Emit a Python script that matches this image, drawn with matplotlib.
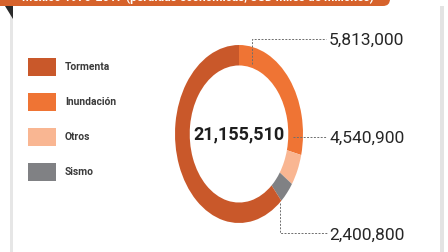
import matplotlib
matplotlib.use('Agg')
import matplotlib.pyplot as plt
import matplotlib.patches as mpatches

# ---------------------------------------------------------------------------
# Data
# ---------------------------------------------------------------------------
categorias = ['Tormenta', 'Inundación', 'Otros', 'Sismo']
colores    = ['#C9582A', '#EF7434', '#F9B692', '#808184']
# share of the ring (%)
porcentaje = [61.5, 28.8, 5.7, 4.0]
# clockwise order of the ring from 12 o'clock
orden_anillo = ['Inundación', 'Otros', 'Sismo', 'Tormenta']

total_txt   = '21,155,510'
etiquetas   = ['5,813,000', '4,540,900', '2,400,800']
titulo      = 'México 1970-2017 (pérdidas económicas, USD miles de millones)'

W, H = 448, 252
fig = plt.figure(figsize=(W / 100, H / 100), dpi=100)
fig.patch.set_facecolor('white')

# ---------------------------------------------------------------------------
# Donut (stretched vertically like the original)
# ---------------------------------------------------------------------------
ax_pie = fig.add_axes([175 / W, 1 - 223 / H, 128 / W, 178 / H])
idx = [categorias.index(c) for c in orden_anillo]
ax_pie.pie([porcentaje[i] for i in idx],
           colors=[colores[i] for i in idx],
           startangle=90, counterclock=False, radius=1.0,
           wedgeprops=dict(width=0.23, edgecolor='none'))
ax_pie.set_aspect('auto')
ax_pie.set_xlim(-1, 1)
ax_pie.set_ylim(-1, 1)
ax_pie.axis('off')

# ---------------------------------------------------------------------------
# Overlay in pixel coordinates
# ---------------------------------------------------------------------------
ax = fig.add_axes([0, 0, 1, 1])
ax.set_xlim(0, W)
ax.set_ylim(H, 0)
ax.axis('off')

# card borders
ax.add_patch(mpatches.Rectangle((10, 14), 3, H, facecolor='#E6E6E6', edgecolor='none'))
ax.add_patch(mpatches.Rectangle((440, 6), 4, H, facecolor='#E3E3E3', edgecolor='none'))

# banner (its text is cut by the top edge, as in the original)
ax.add_patch(mpatches.FancyBboxPatch((-30, -14), 420, 20,
                                     boxstyle='round,pad=0,rounding_size=7',
                                     facecolor='#D6622B', edgecolor='none',
                                     clip_on=False))
ax.add_patch(mpatches.Polygon([(5, 6), (13, 6), (13, 19)], closed=True,
                              facecolor='#2A2A2A', edgecolor='none'))
ax.text(198, -2.5, titulo, ha='center', va='center', fontsize=8.6,
        color='white', fontweight='bold', family='Roboto')

# legend
y_leyenda = [67, 102, 137, 172]
for cat, col, y in zip(categorias, colores, y_leyenda):
    ax.add_patch(mpatches.Rectangle((28, y - 9), 28, 18, facecolor=col, edgecolor='none'))
    ax.text(65, y, cat, ha='left', va='center', fontsize=7.4,
            color='#3A3A3A', family='Roboto', fontweight='bold')

# total in the middle
ax.text(239, 134, total_txt, ha='center', va='center', fontsize=13,
        color='#1E1E1E', fontweight='bold', family='Roboto')

# leader lines + values
dash = dict(color='#6E6E6E', lw=0.7, ls=(0, (2, 1.5)))
ax.plot([252, 252, 326], [64, 39, 39], **dash)
ax.plot([293, 327], [137, 137], **dash)
ax.plot([280, 280, 327], [203, 233, 233], **dash)

y_etiq = [40, 138, 235]
for txt, y in zip(etiquetas, y_etiq):
    ax.text(329, y, txt, ha='left', va='center', fontsize=12.5,
            color='#262626', family='Roboto', fontweight='normal')

fig.savefig('out.png', dpi=100, facecolor='white')
